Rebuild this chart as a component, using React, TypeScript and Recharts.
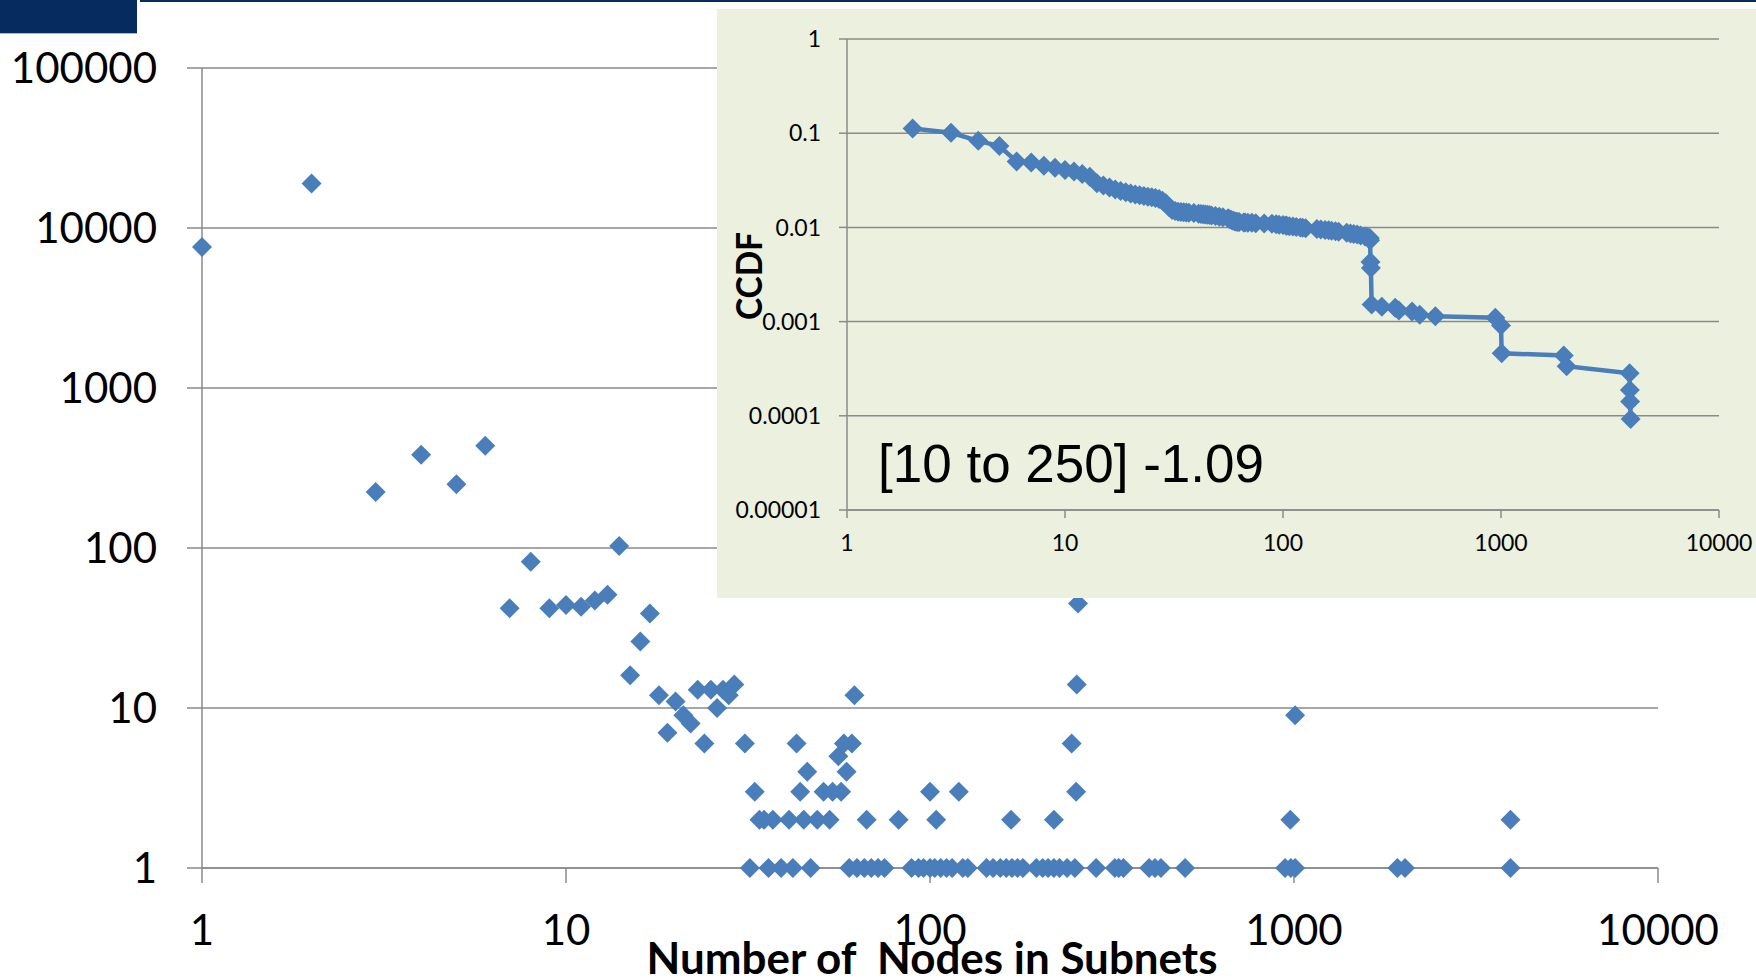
import { CartesianGrid, Label, Scatter, ScatterChart, XAxis, YAxis } from "recharts";

const BLUE = "#4a7ebb";
const GRID = "#8a8a8a";
const NAVY = "#062c5f";

// main scatter: number of subnets per subnet size
const subnetSizes = [
  1, 2, 3, 4, 5, 6, 7, 8, 9, 10,
  11, 12, 13, 14, 15, 16, 17, 18, 19, 20,
  21, 22, 23, 24, 25, 26, 27, 28, 29, 31,
  33, 34, 35, 37, 41, 43, 44, 45, 46, 49,
  51, 53, 54, 56, 57, 58, 59, 61, 62, 67,
  82, 100, 104, 120, 167, 219, 245, 252, 253, 255,
  977, 1007, 3933, 32, 36, 39, 42, 47, 60, 63,
  66, 69, 72, 75, 89, 93, 96, 100, 103, 107,
  111, 115, 123, 127, 143, 149, 156, 162, 168, 174,
  180, 196, 204, 211, 219, 227, 238, 250, 286, 322,
  330, 340, 400, 415, 431, 502, 945, 980, 1007, 1923,
  2018, 3933,
];

const subnetCounts = [
  7600, 19000, 224, 382, 250, 435, 42, 82, 42, 44,
  43, 47, 51, 103, 16, 26, 39, 12, 7, 11,
  9, 8, 13, 6, 13, 10, 13, 12, 14, 6,
  3, 2, 2, 2, 2, 6, 3, 2, 4, 2,
  3, 2, 3, 5, 3, 6, 4, 6, 12, 2,
  2, 3, 2, 3, 2, 2, 6, 3, 14, 45,
  2, 9, 2, 1, 1, 1, 1, 1, 1, 1,
  1, 1, 1, 1, 1, 1, 1, 1, 1, 1,
  1, 1, 1, 1, 1, 1, 1, 1, 1, 1,
  1, 1, 1, 1, 1, 1, 1, 1, 1, 1,
  1, 1, 1, 1, 1, 1, 1, 1, 1, 1,
  1, 1,
];

// inset: CCDF of subnet size
const ccdfSizes = [
  2, 3, 4, 5, 6, 7, 8, 9, 10, 11,
  12, 13, 14, 15, 16, 17, 18, 19, 20, 21,
  22, 23, 24, 25, 26, 27, 28, 29, 30, 31,
  32, 33, 34, 35, 36, 37, 39, 41, 42, 43,
  44, 45, 46, 47, 49, 51, 53, 56, 57, 58,
  59, 60, 61, 62, 63, 66, 67, 69, 72, 75,
  82, 89, 93, 96, 100, 103, 104, 107, 111, 115,
  120, 123, 127, 143, 149, 156, 162, 167, 174, 180,
  196, 204, 211, 219, 227, 238, 245, 250, 251, 252,
  253, 255, 284, 327, 340, 391, 424, 500, 942, 1000,
  1007, 1940, 2000, 3890, 3900, 3910, 3933,
];

const ccdfValues = [
  0.112, 0.101, 0.083, 0.073, 0.05, 0.049, 0.045, 0.043, 0.0406, 0.0393,
  0.0368, 0.0344, 0.0295, 0.0278, 0.0265, 0.0252, 0.0243, 0.0236, 0.0229, 0.0224,
  0.0219, 0.0215, 0.0212, 0.0209, 0.0205, 0.02, 0.0192, 0.018, 0.0165, 0.0153,
  0.0149, 0.0147, 0.0146, 0.0145, 0.0144, 0.0143, 0.0142, 0.014, 0.0139, 0.0138,
  0.0137, 0.0136, 0.0135, 0.0134, 0.0132, 0.013, 0.0128, 0.0125, 0.0122, 0.012,
  0.0118, 0.0116, 0.0115, 0.0114, 0.0114, 0.0113, 0.0113, 0.0112, 0.0112, 0.0111,
  0.011, 0.0109, 0.0108, 0.0107, 0.0106, 0.0105, 0.0104, 0.0103, 0.0102, 0.0101,
  0.01, 0.0099, 0.0098, 0.0096, 0.0095, 0.0094, 0.0093, 0.0092, 0.0091, 0.009,
  0.0088, 0.0086, 0.0085, 0.0084, 0.0082, 0.008, 0.0078, 0.0077, 0.0073, 0.0043,
  0.0037, 0.00152, 0.00144, 0.0014, 0.00131, 0.00128, 0.00118, 0.00114, 0.0011, 0.00091,
  0.00046, 0.000437, 0.000336, 0.000283, 0.000188, 0.000142, 0.0000927,
];

const MAIN_X_TICKS = [1, 10, 100, 1000, 10000];
const MAIN_Y_TICKS = [1, 10, 100, 1000, 10000, 100000];
const CCDF_X_TICKS = [1, 10, 100, 1000, 10000];
const CCDF_Y_TICKS = [0.00001, 0.0001, 0.001, 0.01, 0.1, 1];
const CCDF_Y_LABELS = ["0.00001", "0.0001", "0.001", "0.01", "0.1", "1"];

const X_TITLE = "Number of  Nodes in Subnets";
const CCDF_TITLE = "CCDF";
const FIT_NOTE = "[10 to 250] -1.09";

const mainData = subnetSizes.map((x, i) => ({ x, y: subnetCounts[i] }));
const ccdfData = ccdfSizes.map((x, i) => ({ x, y: ccdfValues[i] }));

function diamond(size: number) {
  return (props: any) => {
    const { cx, cy } = props;
    if (cx == null || cy == null) return <g />;
    const r = size / 2;
    return (
      <polygon
        points={`${cx},${cy - r} ${cx + r},${cy} ${cx},${cy + r} ${cx - r},${cy}`}
        fill={BLUE}
      />
    );
  };
}

const axisStroke = { stroke: GRID, strokeWidth: 1.5 };

export default function App() {
  return (
    <div
      style={{
        position: "absolute",
        left: 0,
        top: 0,
        width: 1756,
        height: 980,
        background: "#ffffff",
        overflow: "hidden",
      }}
    >
      <div style={{ position: "absolute", left: 0, top: 0, width: 137, height: 33, background: NAVY }} />
      <div style={{ position: "absolute", left: 0, top: 33, width: 137, height: 1, background: "#a9b8cc" }} />
      <div style={{ position: "absolute", left: 140, top: 0, width: 1616, height: 2, background: NAVY }} />

      <div style={{ position: "absolute", left: 0, top: 0 }}>
        <ScatterChart
          width={1756}
          height={980}
          margin={{ top: 68, right: 98, bottom: 0, left: 0 }}
        >
          <CartesianGrid vertical={false} stroke={GRID} strokeWidth={1.5} />
          <XAxis
            type="number"
            dataKey="x"
            scale="log"
            domain={[1, 10000]}
            ticks={MAIN_X_TICKS}
            interval={0}
            height={112}
            axisLine={axisStroke}
            tickLine={axisStroke}
            tickSize={15}
            tickMargin={32}
            tick={{ fill: "#000000", fontSize: 42, fontFamily: "Lato" }}
          >
            <Label
              content={() => (
                <text
                  x={932}
                  y={974}
                  textAnchor="middle"
                  fontFamily="Lato"
                  fontWeight="bold"
                  fontSize={44}
                  fill="#000000"
                  textLength={571}
                  lengthAdjust="spacingAndGlyphs"
                  style={{ whiteSpace: "pre" }}
                >
                  {X_TITLE}
                </text>
              )}
            />
          </XAxis>
          <YAxis
            type="number"
            dataKey="y"
            scale="log"
            domain={[1, 100000]}
            ticks={MAIN_Y_TICKS}
            interval={0}
            width={202}
            axisLine={axisStroke}
            tickLine={axisStroke}
            tickSize={15}
            tickMargin={30}
            tick={{ fill: "#000000", fontSize: 42, fontFamily: "Lato" }}
          />
          <Scatter data={mainData} shape={diamond(20)} isAnimationActive={false} />
        </ScatterChart>
      </div>

      <div
        style={{
          position: "absolute",
          left: 717,
          top: 9,
          width: 1039,
          height: 589,
          background: "#ebf1de",
        }}
      >
        <ScatterChart
          width={1039}
          height={589}
          margin={{ top: 30, right: 37, bottom: 0, left: 0 }}
        >
          <CartesianGrid vertical={false} stroke={GRID} strokeWidth={1.5} />
          <XAxis
            type="number"
            dataKey="x"
            scale="log"
            domain={[1, 10000]}
            ticks={CCDF_X_TICKS}
            interval={0}
            height={88}
            axisLine={axisStroke}
            tickLine={axisStroke}
            tickSize={8}
            tickMargin={17}
            tick={{ fill: "#000000", fontSize: 23, fontFamily: "Lato" }}
          />
          <YAxis
            type="number"
            dataKey="y"
            scale="log"
            domain={[0.00001, 1]}
            ticks={CCDF_Y_TICKS}
            interval={0}
            width={130}
            axisLine={axisStroke}
            tickLine={axisStroke}
            tickSize={8}
            tickMargin={18}
            tickFormatter={(v: number) => {
              const i = CCDF_Y_TICKS.indexOf(v);
              return i >= 0 ? CCDF_Y_LABELS[i] : String(v);
            }}
            tick={{ fill: "#000000", fontSize: 23, fontFamily: "Lato" }}
          >
            <Label
              content={() => (
                <text
                  x={45}
                  y={267}
                  transform="rotate(-90, 45, 267)"
                  textAnchor="middle"
                  fontFamily="Lato"
                  fontWeight="bold"
                  fontSize={37}
                  fill="#000000"
                  textLength={88}
                  lengthAdjust="spacingAndGlyphs"
                >
                  {CCDF_TITLE}
                </text>
              )}
            />
          </YAxis>
          <Scatter
            data={ccdfData}
            line={{ stroke: BLUE, strokeWidth: 4.5 }}
            lineType="joint"
            shape={diamond(20)}
            isAnimationActive={false}
          />
        </ScatterChart>
        <svg
          width={1039}
          height={589}
          style={{ position: "absolute", left: 0, top: 0, pointerEvents: "none" }}
        >
          <text
            x={161}
            y={473}
            fontFamily="Liberation Sans"
            fontSize={53}
            fill="#000000"
          >
            {FIT_NOTE}
          </text>
        </svg>
      </div>
    </div>
  );
}
